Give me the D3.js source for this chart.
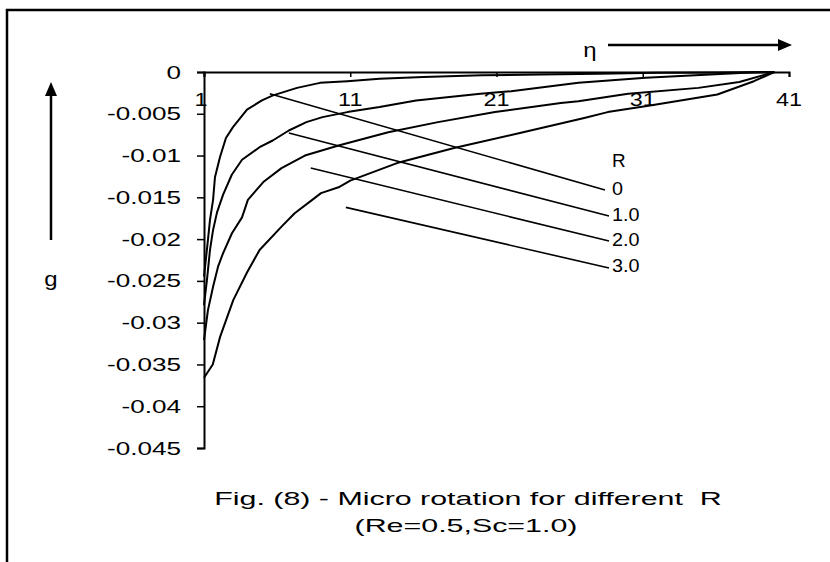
<!DOCTYPE html>
<html>
<head>
<meta charset="utf-8">
<script src="https://cdn.jsdelivr.net/npm/d3@7"></script>
<style>
  body { margin: 0; background: #fff; }
  svg { display: block; }
  text { font-family: Arial, "Liberation Sans", sans-serif; fill: #000; white-space: pre; }
</style>
</head>
<body>
<svg id="chart" width="830" height="562"></svg>
<script>
// Tick values for both axes
const etaTicks = [1, 11, 21, 31, 41];
const gTicks = [0, -0.005, -0.01, -0.015, -0.02, -0.025, -0.03, -0.035, -0.04, -0.045];
const gTickLabels = ["0", "-0.005", "-0.01", "-0.015", "-0.02", "-0.025", "-0.03", "-0.035", "-0.04", "-0.045"];

// Micro rotation g(eta) for each R
const seriesR = ["0", "1.0", "2.0", "3.0"];
const etaR0 = [1, 1.27, 1.41, 1.62, 1.75, 2.09, 2.5, 2.98, 3.94, 4.96, 5.72, 7.36, 8.93, 10.8, 13, 16, 20, 24, 28, 32, 36, 40];
const gR0 = [-0.0245, -0.0201, -0.0177, -0.0153, -0.0126, -0.0102, -0.0079, -0.0066, -0.0045, -0.0034, -0.0028, -0.0019, -0.0013, -0.0011, -0.0008, -0.0006, -0.0004, -0.0003, -0.0002, -0.0001, -0.00005, 0];
const etaR1 = [1, 1.2, 1.41, 1.62, 1.89, 2.3, 2.9, 3.6, 4.8, 5.7, 6.8, 8.0, 9.1, 10.8, 13.0, 15.5, 19.9, 22.0, 26.6, 31.2, 38.0, 40];
const gR1 = [-0.0279, -0.0249, -0.0213, -0.0189, -0.0168, -0.0147, -0.0123, -0.0105, -0.0090, -0.0082, -0.0070, -0.0060, -0.0054, -0.0048, -0.0042, -0.0034, -0.0026, -0.0023, -0.0013, -0.0007, -0.0001, 0];
const etaR2 = [1, 1.27, 1.62, 1.96, 2.3, 2.91, 3.6, 4.0, 5.1, 6.3, 7.9, 10.2, 13.6, 17.0, 20.9, 25.4, 26.6, 30.0, 34.8, 37.6, 40];
const gR2 = [-0.0321, -0.0285, -0.0257, -0.0233, -0.0217, -0.0193, -0.0174, -0.0153, -0.0131, -0.0115, -0.0100, -0.0088, -0.0072, -0.0060, -0.0048, -0.0037, -0.0035, -0.0026, -0.0019, -0.0012, 0];
const etaR3 = [1, 1.6, 2.1, 3.0, 3.94, 4.8, 6.3, 7.2, 8.4, 9.0, 10.2, 11.0, 14.2, 18.1, 22.6, 27.0, 28.6, 31.5, 36.1, 38.6, 40];
const gR3 = [-0.0366, -0.0350, -0.0317, -0.0273, -0.0240, -0.0213, -0.0185, -0.0169, -0.0153, -0.0145, -0.0138, -0.0130, -0.0109, -0.0091, -0.0073, -0.0055, -0.0048, -0.0040, -0.0027, -0.0011, 0];

const etaSeries = [etaR0, etaR1, etaR2, etaR3];
const gSeries = [gR0, gR1, gR2, gR3];

// Pointer line for each curve: start point (eta, g) near the curve
const pointerEta = [5.5, 6.8, 8.3, 10.7];
const pointerG = [-0.0026, -0.0073, -0.0115, -0.0162];

const svg = d3.select("#chart");
const W = 830, H = 562;

// Text drawn with a horizontal stretch
function wideText(sel, x, y, str, size, anchor, sx) {
  return sel.append("text")
    .attr("transform", `translate(${x},${y}) scale(${sx || 1.45},1)`)
    .attr("text-anchor", anchor || "start")
    .style("font-size", size + "px")
    .text(str);
}

// Outer frame
svg.append("rect").attr("x", 7).attr("y", 10).attr("width", W).attr("height", H)
  .attr("fill", "none").attr("stroke", "#000").attr("stroke-width", 2.5);

const x = d3.scaleLinear().domain([1, 41]).range([204, 789]);
const y = d3.scaleLinear().domain([0, -0.045]).range([72, 448]);

// Axes
const xAxis = d3.axisTop(x).tickValues(etaTicks).tickSize(-5).tickFormat("");
const gx = svg.append("g").attr("transform", `translate(0,${y(0)})`).call(xAxis);
const yAxis = d3.axisLeft(y).tickValues(gTicks).tickSize(7).tickFormat("");
const gy = svg.append("g").attr("transform", `translate(${x(1)},0)`).call(yAxis);
[gx, gy].forEach(g => {
  g.select(".domain").attr("stroke", "#000").attr("stroke-width", 2);
  g.selectAll(".tick line").attr("stroke", "#000").attr("stroke-width", 1.5);
});

// Tick labels
gTicks.forEach((v, i) => wideText(svg, 181, y(v) + 6.5, gTickLabels[i], 18, "end"));
etaTicks.forEach(v => wideText(svg, x(v) - (v === 1 ? 3 : 0), y(0) + 34, String(v), 18, "middle", 1.3));

// Curves
const line = d3.line().x(d => x(d[0])).y(d => y(d[1]));
etaSeries.forEach((etas, i) => {
  const pts = etas.map((e, j) => [e, gSeries[i][j]]);
  svg.append("path").datum(pts).attr("d", line)
    .attr("fill", "none").attr("stroke", "#000").attr("stroke-width", 2)
    .attr("stroke-linejoin", "round");
});

// Pointer lines to the R labels
const labelEnd = [[605, 190], [609, 216], [609, 241], [609, 268]];
seriesR.forEach((r, i) => {
  svg.append("line")
    .attr("x1", x(pointerEta[i])).attr("y1", y(pointerG[i]))
    .attr("x2", labelEnd[i][0]).attr("y2", labelEnd[i][1])
    .attr("stroke", "#000").attr("stroke-width", 1.6);
});
wideText(svg, 612, 167, "R", 18, "start", 1.05);
const labelY = [195, 221, 246, 272];
seriesR.forEach((r, i) => wideText(svg, 612, labelY[i], r, 18, "start", 1.1));

// Direction arrows
function arrow(x1, y1, x2, y2) {
  const a = Math.atan2(y2 - y1, x2 - x1);
  const L = 14, Wd = 6;
  svg.append("line").attr("x1", x1).attr("y1", y1)
    .attr("x2", x2 - L * Math.cos(a)).attr("y2", y2 - L * Math.sin(a))
    .attr("stroke", "#000").attr("stroke-width", 2.5);
  const p = [
    [x2, y2],
    [x2 - L * Math.cos(a) - Wd * Math.sin(a), y2 - L * Math.sin(a) + Wd * Math.cos(a)],
    [x2 - L * Math.cos(a) + Wd * Math.sin(a), y2 - L * Math.sin(a) - Wd * Math.cos(a)]
  ];
  svg.append("polygon").attr("points", p.map(q => q.join(",")).join(" ")).attr("fill", "#000");
}
arrow(608, 45, 792, 45);
arrow(51, 240, 51, 82);

wideText(svg, 590, 57, "η", 20, "middle", 1.2);
wideText(svg, 51, 286, "g", 20, "middle", 1.2);

// Caption
wideText(svg, 468, 505, "Fig. (8) - Micro rotation for different  R", 19, "middle", 1.6);
wideText(svg, 466, 532, "(Re=0.5,Sc=1.0)", 19, "middle", 1.6);
</script>
</body>
</html>
